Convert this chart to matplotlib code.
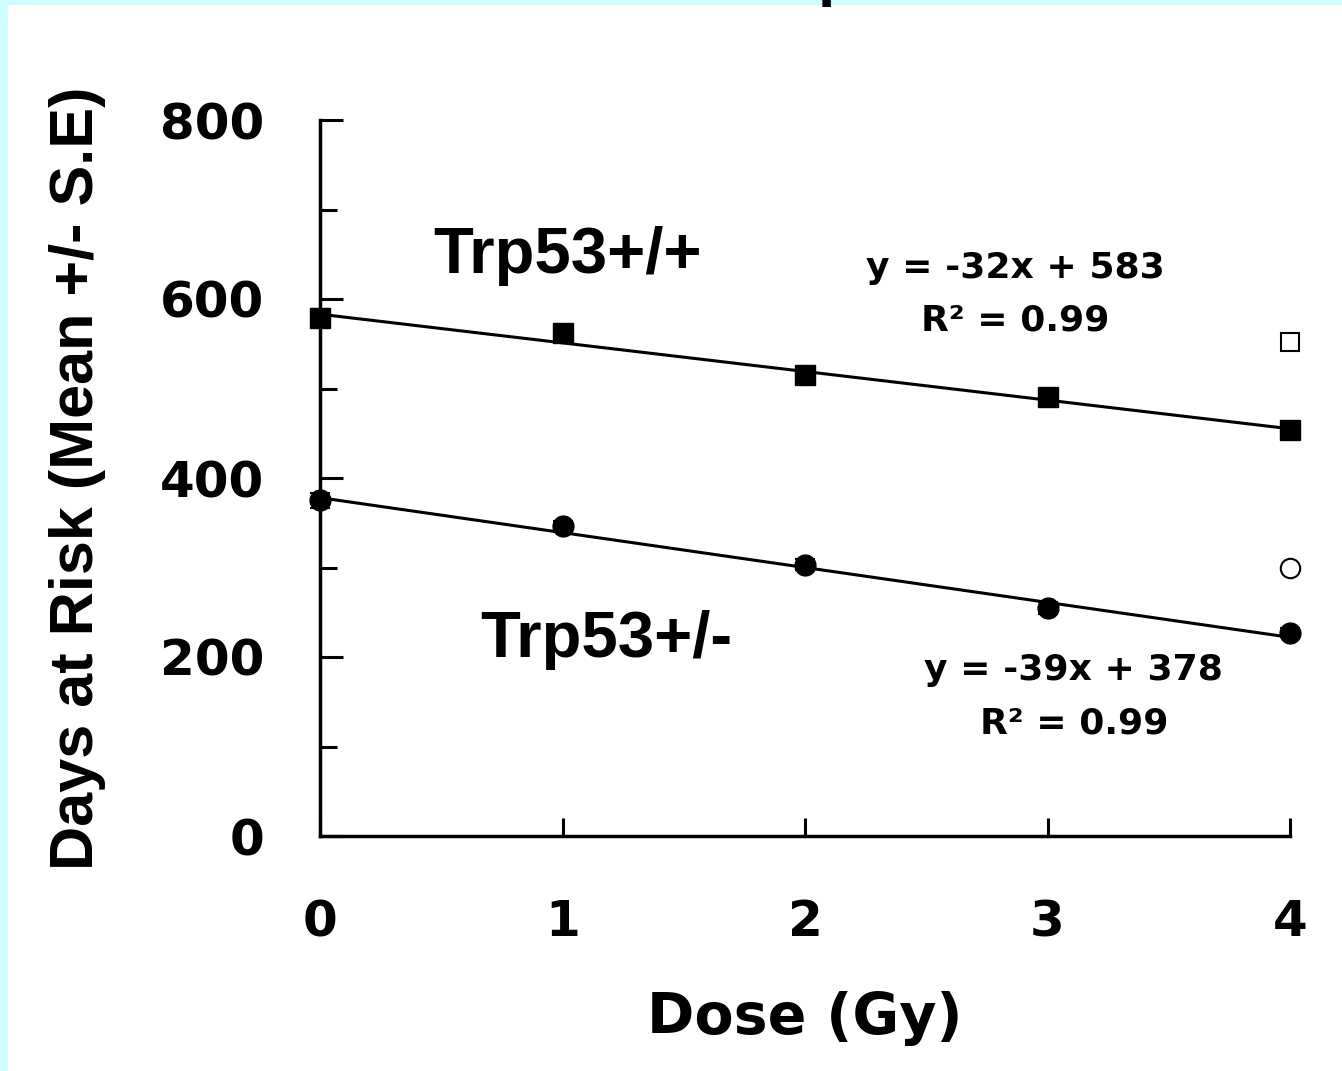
import matplotlib.pyplot as plt
from matplotlib.patches import Rectangle
import numpy as np

# data
dose = [0, 1, 2, 3, 4]
wt_days = [579, 562, 515, 490, 454]        # Trp53+/+
wt_err = [10, 8, 9, 8, 6]
het_days = [375, 346, 303, 255, 227]       # Trp53+/-
het_err = [8, 6, 6, 7, 5]
wt_open = 552                              # open square at 4 Gy
het_open = 300                             # open circle at 4 Gy
wt_fit = (-32, 583)
het_fit = (-39, 378)

W, H = 1342, 1071
fig = plt.figure(figsize=(W / 100, H / 100), dpi=100)
fig.patch.set_facecolor('#ccffff')
fig.patches.append(Rectangle((8 / W, 0), 1, 1 - 5 / H, transform=fig.transFigure,
                             facecolor='white', edgecolor='none', zorder=-5))

ax = fig.add_axes([320 / W, 1 - 836 / H, 970 / W, 716 / H])
ax.set_facecolor('none')

bold = dict(family='DejaVu Sans', weight='bold')
arial = dict(family='Liberation Sans', weight='bold')

# fit lines
xs = np.array([0, 4])
for m, b in (wt_fit, het_fit):
    ax.plot(xs, m * xs + b, color='black', lw=2.2, clip_on=False, zorder=2)

ax.errorbar(dose, wt_days, yerr=wt_err, fmt='s', color='black', ms=15,
            capsize=7, elinewidth=1.5, capthick=1.5, clip_on=False, zorder=3)
ax.errorbar(dose, het_days, yerr=het_err, fmt='o', color='black', ms=15,
            capsize=7, elinewidth=1.5, capthick=1.5, clip_on=False, zorder=3)
ax.plot([4], [wt_open], 's', mfc='white', mec='black', ms=13, mew=1.5, clip_on=False)
ax.plot([4], [het_open], 'o', mfc='white', mec='black', ms=14, mew=1.5, clip_on=False)

ax.set_xlim(0, 4)
ax.set_ylim(0, 800)
ax.spines['top'].set_visible(False)
ax.spines['right'].set_visible(False)
for s in ('left', 'bottom'):
    ax.spines[s].set_linewidth(2.5)

ax.set_xticks([0, 1, 2, 3, 4])
ax.set_yticks([0, 200, 400, 600, 800])
ax.set_yticks([100, 300, 500, 700], minor=True)
ax.tick_params(axis='both', which='major', direction='in', width=2.2)
ax.tick_params(axis='y', which='major', length=16.5, pad=40)
ax.tick_params(axis='y', which='minor', direction='in', length=12, width=2.2)
ax.tick_params(axis='x', which='major', length=13, pad=45)
for lab in ax.get_xticklabels() + ax.get_yticklabels():
    lab.set_fontproperties(bold)
    lab.set_fontsize(36)

ax.set_xlabel('Dose (Gy)', fontsize=41, labelpad=32, **bold)
ax.set_ylabel('Days at Risk (Mean +/- S.E)', fontsize=44, va='center', **arial)
ax.yaxis.set_label_coords(-0.25, 0.5)

# annotations
ax.text(0.466, 629, 'Trp53+/+', fontsize=47, va='baseline', **arial)
ax.text(0.66, 200, 'Trp53+/-', fontsize=47, va='baseline', **arial)
ax.text(2.866, 623, 'y = -32x + 583', fontsize=26, ha='center', va='baseline', **bold)
ax.text(2.866, 565, 'R² = 0.99', fontsize=26, ha='center', va='baseline', **bold)
ax.text(3.105, 174, 'y = -39x + 378', fontsize=26, ha='center', va='baseline', **bold)
ax.text(3.11, 115, 'R² = 0.99', fontsize=26, ha='center', va='baseline', **bold)

# cut-off title at the top edge
fig.text(818 / W, 1 + 6 / H, 'p', fontsize=45, va='baseline', **arial)

fig.savefig('out.png', dpi=100)
